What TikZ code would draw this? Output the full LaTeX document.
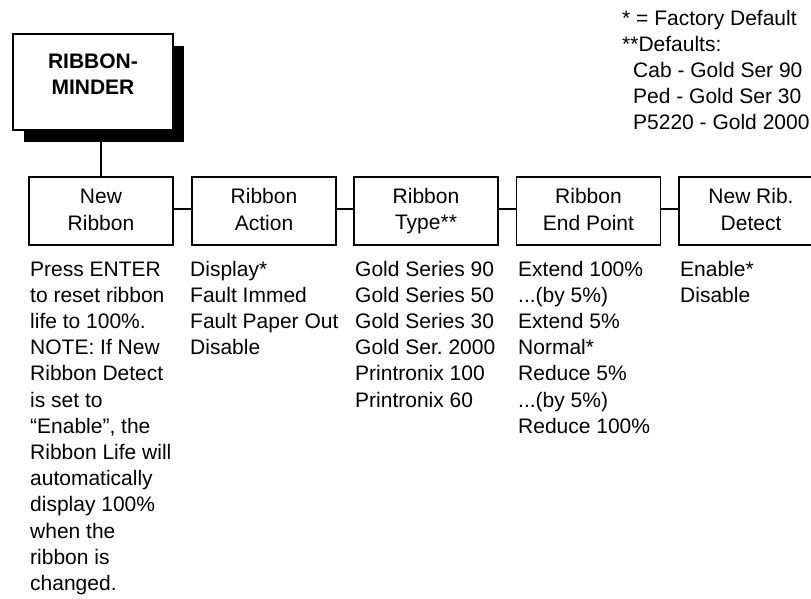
\documentclass[tikz,border=0pt]{standalone}
\usepackage{fontspec}
\setmainfont{Liberation Sans}
\usetikzlibrary{shadows}
\newcommand{\boxtext}[2]{\parbox[c]{140pt}{\centering\rule{0pt}{16pt}#1\\#2\rule[-4pt]{0pt}{4pt}}}
\begin{document}
\frenchspacing
\begin{tikzpicture}[x=1pt,y=-1pt,
  txt/.style={font=\fontsize{21pt}{26.2pt}\selectfont, inner sep=0pt},
  menubox/.style={draw, line width=1.8pt, minimum width=144pt, minimum height=68pt,
    inner sep=0pt, fill=white, font=\fontsize{21pt}{26.2pt}\selectfont},
  topbox/.style={draw, line width=1.8pt, minimum width=160pt, minimum height=96pt, fill=white,
    drop shadow={shadow xshift=11pt, shadow yshift=-12pt, fill=black, opacity=1}},
  conn/.style={line width=1.8pt}]
\useasboundingbox (0,0) rectangle (811,598);

% top box
\node[topbox] (main) at (93,82) {};
\node[txt, anchor=base] (mainlbl) at (93,68) {\parbox[t]{150pt}{\centering\bfseries RIBBON-\\MINDER}};

% menu boxes
\node[menubox] (nr) at (101,211) {\boxtext{New}{Ribbon}};
\node[menubox] (ra) at (264,211) {\boxtext{Ribbon}{Action}};
\node[menubox] (rt) at (426,211) {\boxtext{Ribbon}{Type**}};
\node[menubox] (re) at (588.5,211) {\boxtext{Ribbon}{End Point}};
\node[menubox] (nd) at (751,211) {\boxtext{New Rib.}{Detect}};

% connectors
\draw[conn] (nr.north |- main.south) -- (nr.north);
\draw[conn] ([yshift=2pt]nr.east) -- ([yshift=2pt]ra.west);
\draw[conn] ([yshift=2pt]ra.east) -- ([yshift=2pt]rt.west);
\draw[conn] ([yshift=2pt]rt.east) -- ([yshift=2pt]re.west);
\draw[conn] ([yshift=2pt]re.east) -- ([yshift=2pt]nd.west);

% lists
\node[txt, anchor=base west] (l1) at (30,276) {\parbox[t]{160pt}{Press ENTER\\to reset ribbon\\life to 100\%.\\NOTE: If New\\Ribbon Detect\\is set to\\“Enable”, the\\Ribbon Life will\\automatically\\display 100\%\\when the\\ribbon is\\changed.}};
\node[txt, anchor=base west] (l2) at (190,276) {\parbox[t]{170pt}{Display*\\Fault Immed\\Fault Paper Out\\Disable}};
\node[txt, anchor=base west] (l3) at (355,276) {\parbox[t]{170pt}{Gold Series 90\\Gold Series 50\\Gold Series 30\\Gold Ser. 2000\\Printronix 100\\Printronix 60}};
\node[txt, anchor=base west] (l4) at (518,276) {\parbox[t]{170pt}{Extend 100\%\\...(by 5\%)\\Extend 5\%\\Normal*\\Reduce 5\%\\...(by 5\%)\\Reduce 100\%}};
\node[txt, anchor=base west] (l5) at (680,276) {\parbox[t]{170pt}{Enable*\\Disable}};

% notes
\node[txt, anchor=base west] (notes) at (622,25) {\parbox[t]{260pt}{* = Factory Default\\\relax **Defaults:\\\hspace*{11pt}Cab - Gold Ser 90\\\hspace*{11pt}Ped - Gold Ser 30\\\hspace*{11pt}P5220 - Gold 2000}};
\end{tikzpicture}
\end{document}
